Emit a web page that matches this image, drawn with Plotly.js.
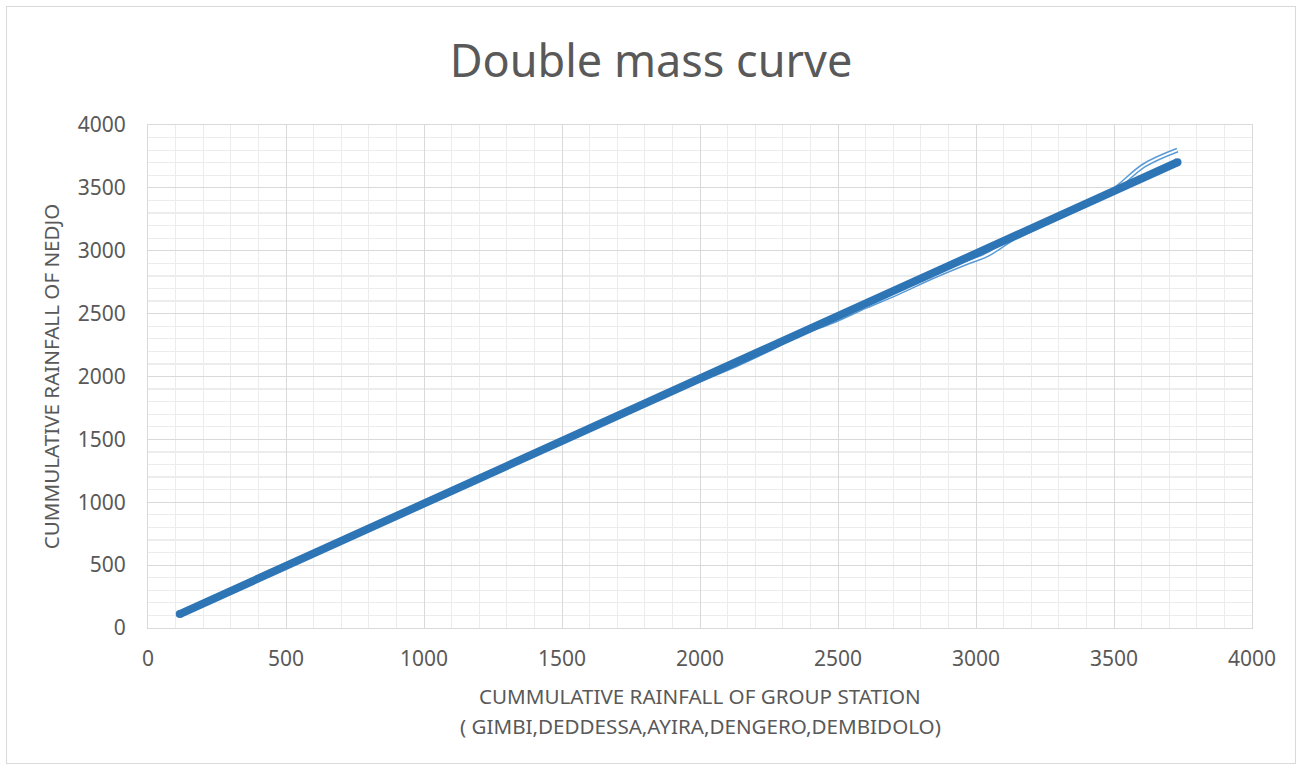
<!DOCTYPE html>
<html>
<head>
<meta charset="utf-8">
<script src="https://cdn.plot.ly/plotly-3.0.1.min.js"></script>
<style>
  html, body { margin: 0; padding: 0; background: #ffffff; }
  #chart { position: absolute; left: 0; top: 0; width: 1302px; height: 770px; }
  #frame { position: absolute; left: 6px; top: 6px; width: 1288px; height: 756px; border: 1px solid #d9d9d9; pointer-events: none; }
</style>
</head>
<body>
<div id="chart"></div>
<div id="frame"></div>
<script>
// Cumulative rainfall of group station (Gimbi, Deddessa, Ayira, Dengero, Dembidolo)
const groupCum = [115, 235, 355, 470, 590, 710, 830, 950, 1070, 1190, 1310, 1430, 1550, 1670, 1790, 1905,
                  2020, 2130, 2240, 2360, 2480, 2600, 2720, 2840, 2960, 3040, 3130, 3250, 3370, 3490, 3610, 3730];
// Cumulative rainfall of Nedjo
const nedjoCum = [118, 238, 358, 473, 590, 710, 828, 948, 1066, 1185, 1302, 1422, 1540, 1658, 1776, 1890,
                  1992, 2092, 2205, 2340, 2438, 2556, 2668, 2790, 2900, 2968, 3090, 3218, 3338, 3468, 3680, 3800];

const titleText = 'Double mass curve';
const xTitleLines = ['CUMMULATIVE RAINFALL OF GROUP STATION', '( GIMBI,DEDDESSA,AYIRA,DENGERO,DEMBIDOLO)'];
const yTitle = 'CUMMULATIVE RAINFALL OF NEDJO';

// Linear trendline (least squares) from the data
const n = groupCum.length;
const mx = groupCum.reduce((a, b) => a + b, 0) / n;
const my = nedjoCum.reduce((a, b) => a + b, 0) / n;
let sxy = 0, sxx = 0;
for (let i = 0; i < n; i++) { sxy += (groupCum[i] - mx) * (nedjoCum[i] - my); sxx += (groupCum[i] - mx) ** 2; }
const slope = sxy / sxx, icpt = my - slope * mx;
const trendX = [groupCum[0], groupCum[n - 1]];
const trendY = trendX.map(v => icpt + slope * v);

const fontFam = '"Noto Sans", "Open Sans", "Liberation Sans", sans-serif';
const titleSize = 20.6;

const traces = [
  { x: groupCum, y: nedjoCum, mode: 'lines', line: { color: '#5b9bd5', width: 5, shape: 'spline', smoothing: 1 }, hoverinfo: 'x+y' },
  { x: groupCum, y: nedjoCum, mode: 'lines', line: { color: '#ffffff', width: 2, shape: 'spline', smoothing: 1 }, hoverinfo: 'skip' },
  { x: trendX, y: trendY, mode: 'lines+markers', line: { color: '#2e75b6', width: 8 }, marker: { color: '#2e75b6', size: 8 }, hoverinfo: 'skip' }
];

const axisCommon = {
  range: [0, 4000], dtick: 500, tick0: 0,
  showgrid: true, gridcolor: '#d9d9d9', gridwidth: 1,
  zeroline: true, zerolinecolor: '#d9d9d9', zerolinewidth: 1,
  showline: true, mirror: true, linecolor: '#d9d9d9', linewidth: 1,
  ticks: '',
  minor: { dtick: 100, showgrid: true, gridcolor: '#ececec', gridwidth: 1.3 },
  tickfont: { family: fontFam, size: 21, color: '#595959' },
  fixedrange: true
};

const layout = {
  width: 1302, height: 770,
  margin: { l: 148, r: 50, t: 125, b: 142 },
  paper_bgcolor: 'rgba(0,0,0,0)', plot_bgcolor: '#ffffff',
  showlegend: false,
  title: { text: titleText, x: 0.5, xanchor: 'center', y: 0.92, yanchor: 'middle', font: { family: fontFam, size: 45, color: '#595959' } },
  xaxis: Object.assign({}, axisCommon, {
    ticklabelstandoff: 12
  }),
  yaxis: Object.assign({}, axisCommon, {
    ticklabelstandoff: 17,
    title: { text: yTitle, standoff: 12, font: { family: fontFam, size: titleSize, color: '#595959' } }
  }),
  annotations: xTitleLines.map((t, i) => ({
    text: t, xref: 'paper', yref: 'paper', x: 0.5, y: 0, xanchor: 'center', yanchor: 'middle',
    yshift: -68 - 30 * i, showarrow: false,
    font: { family: fontFam, size: titleSize, color: '#595959' }
  }))
};

Plotly.newPlot('chart', traces, layout, { displayModeBar: false, staticPlot: true });
</script>
</body>
</html>
